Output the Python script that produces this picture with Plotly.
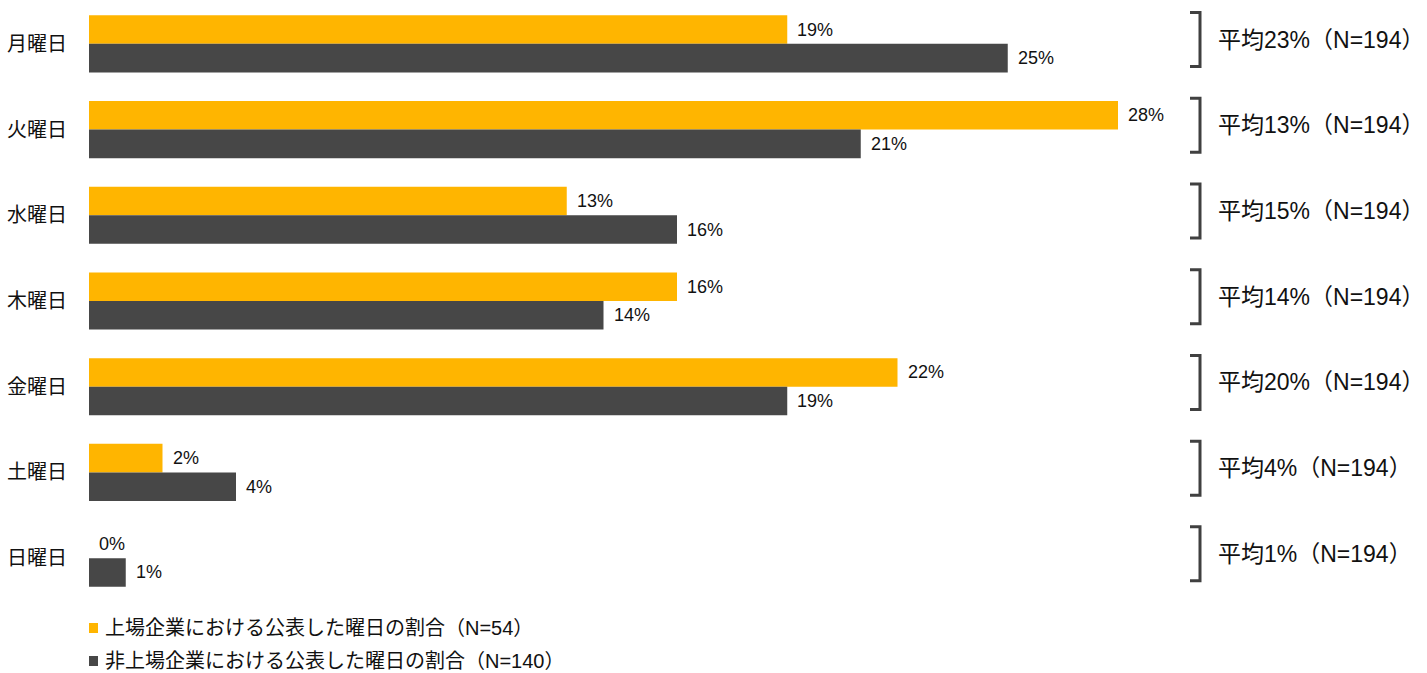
import plotly.graph_objects as go

# Days of the week, top to bottom
days = ["月曜日", "火曜日", "水曜日", "木曜日", "金曜日", "土曜日", "日曜日"]

# Share of announcements by weekday (%)
listed = [19, 28, 13, 16, 22, 2, 0]
unlisted = [25, 21, 16, 14, 19, 4, 1]

# Overall average per weekday (N=194)
overall = [23, 13, 15, 14, 20, 4, 1]

listed_name = "上場企業における公表した曜日の割合（N=54）"
unlisted_name = "非上場企業における公表した曜日の割合（N=140）"

YELLOW = "#FFB500"
GRAY = "#474747"
FONT = "Liberation Sans, Arial, Noto Sans CJK JP, sans-serif"

W, H = 1427, 673
M_L, M_R, M_T, M_B = 89, 0, 1, 72
PX_PER_PCT = 36.75
PW = W - M_L - M_R
x_max = PW / PX_PER_PCT

fig = go.Figure()
fig.add_trace(go.Bar(y=days, x=listed, orientation="h", name=listed_name,
                     marker=dict(color=YELLOW, line=dict(width=0))))
fig.add_trace(go.Bar(y=days, x=unlisted, orientation="h", name=unlisted_name,
                     marker=dict(color=GRAY, line=dict(width=0))))

annotations = []
shapes = []
half = 1 / 6  # centre offset of each bar inside its group (bargap 1/3)
for i, (a, b) in enumerate(zip(listed, unlisted)):
    annotations.append(dict(x=a, y=i - half, xref="x", yref="y", text=f"{a}%",
                            showarrow=False, xanchor="left", yanchor="middle",
                            xshift=8, font=dict(size=18, color="#111", family=FONT)))
    annotations.append(dict(x=b, y=i + half, xref="x", yref="y", text=f"{b}%",
                            showarrow=False, xanchor="left", yanchor="middle",
                            xshift=8, font=dict(size=18, color="#111", family=FONT)))

# Right-hand brackets with the overall average
bx = (1200 - M_L) / PW
arm = 10 / PW
for i, avg in enumerate(overall):
    c = i - 0.05
    top, bot = c - 0.315, c + 0.315
    shapes.append(dict(type="path", xref="paper", yref="y",
                       path=f"M {bx - arm} {top} L {bx} {top} L {bx} {bot} L {bx - arm} {bot}",
                       line=dict(color="#404040", width=3)))
    annotations.append(dict(x=bx + 16 / PW, y=c, xref="paper", yref="y",
                            text=f"平均{avg}%（N=194）", showarrow=False,
                            xanchor="left", yanchor="middle",
                            font=dict(size=23, color="#111", family=FONT)))

# Legend drawn below the plot area
def px_to_paper_y(py):
    return 1 - (py - M_T) / (H - M_T - M_B)

for (name, col, cy) in [(listed_name, YELLOW, 628), (unlisted_name, GRAY, 661)]:
    shapes.append(dict(type="rect", xref="paper", yref="paper",
                       x0=(89 - M_L) / PW, x1=(98 - M_L) / PW,
                       y0=px_to_paper_y(cy + 5), y1=px_to_paper_y(cy - 5),
                       fillcolor=col, line=dict(width=0)))
    annotations.append(dict(x=(103 - M_L) / PW, y=px_to_paper_y(cy),
                            xref="paper", yref="paper", text=name, showarrow=False,
                            xanchor="left", yanchor="middle",
                            font=dict(size=20, color="#111", family=FONT)))

fig.update_layout(
    width=W, height=H,
    margin=dict(l=M_L, r=M_R, t=M_T, b=M_B),
    barmode="group", bargap=1 / 3, bargroupgap=0,
    showlegend=False,
    plot_bgcolor="white", paper_bgcolor="white",
    font=dict(family=FONT, color="#111"),
    xaxis=dict(range=[0, x_max], visible=False, fixedrange=True),
    yaxis=dict(autorange="reversed", showgrid=False, zeroline=False, showline=False,
               ticks="", ticklabelstandoff=21, tickfont=dict(size=20, color="#111", family=FONT)),
    annotations=annotations,
    shapes=shapes,
)

fig.write_html("out.html")
